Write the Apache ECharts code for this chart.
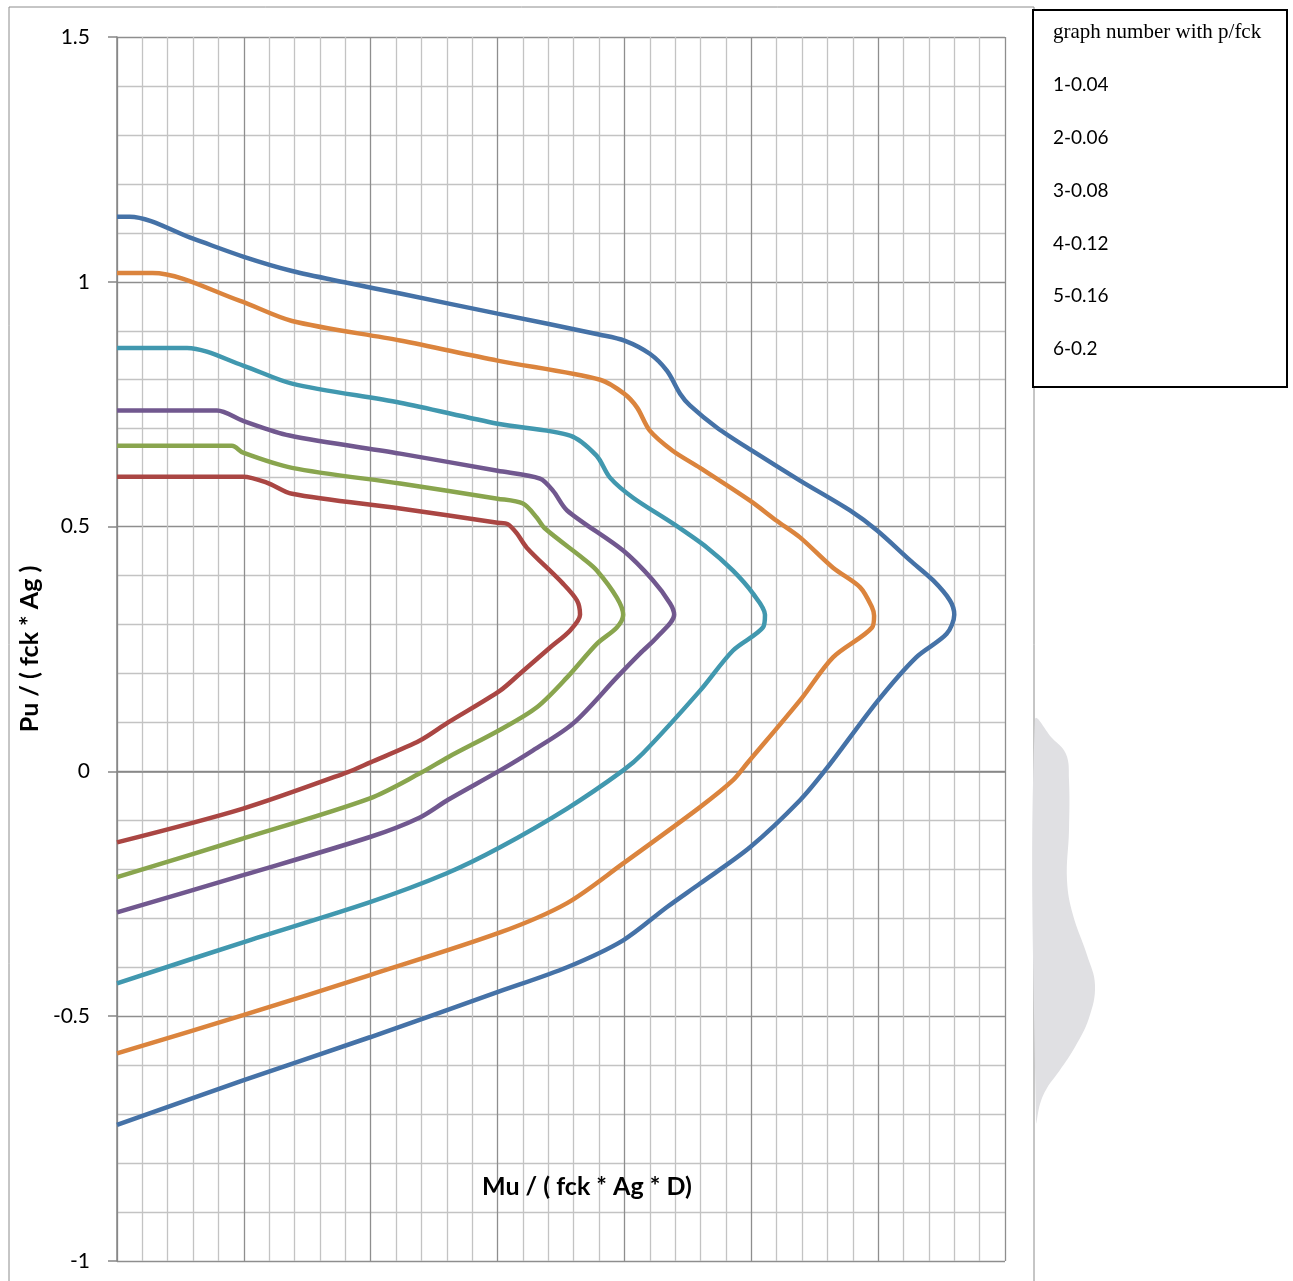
<!DOCTYPE html>
<html>
<head>
<meta charset="utf-8">
<title>Interaction curves</title>
<script src="https://cdn.jsdelivr.net/npm/echarts@6/dist/echarts.min.js"></script>
<style>
	html, body { margin: 0; padding: 0; background: #fff; }
	#chart { width: 1293px; height: 1281px; }
</style>
</head>
<body>
<div id="chart"></div>
<script type="text/javascript">
    // curve names (legend), graph number - p/fck
    var curveNames = ['1-0.04', '2-0.06', '3-0.08', '4-0.12', '5-0.16', '6-0.2'];
    var curveColors = ['#AA4643', '#89A54E', '#71588F', '#4198AF', '#DB843D', '#4572A7'];
    var yTicks = [-1, -0.5, 0, 0.5, 1, 1.5];

    // [Mu/(fck*Ag*D), Pu/(fck*Ag)]
    var curve1 = [[0, 0.602], [0.0497, 0.602], [0.059, 0.590], [0.069, 0.567], [0.1116, 0.537], [0.150, 0.508],
        [0.154, 0.505], [0.1576, 0.486], [0.1615, 0.457], [0.1757, 0.384], [0.1813, 0.349], [0.1825, 0.320],
        [0.1786, 0.288], [0.1707, 0.253], [0.1589, 0.200], [0.151, 0.165], [0.1305, 0.100], [0.1194, 0.063],
        [0.0997, 0.018], [0.0907, -0.002], [0.0497, -0.076], [0, -0.145]];
    var curve2 = [[0, 0.665], [0.0453, 0.665], [0.0497, 0.651], [0.069, 0.620], [0.1116, 0.588], [0.150, 0.557],
        [0.160, 0.547], [0.1655, 0.518], [0.1687, 0.496], [0.1837, 0.435], [0.1892, 0.410], [0.197, 0.355],
        [0.1995, 0.320], [0.197, 0.294], [0.1892, 0.261], [0.1774, 0.192], [0.1655, 0.131], [0.151, 0.085],
        [0.1305, 0.029], [0.1194, -0.004], [0.0997, -0.055], [0.0497, -0.137], [0, -0.216]];
    var curve3 = [[0, 0.737], [0.0394, 0.737], [0.0497, 0.716], [0.068, 0.686], [0.1116, 0.649], [0.150, 0.614],
        [0.1667, 0.598], [0.1719, 0.573], [0.1774, 0.533], [0.1995, 0.451], [0.2113, 0.390], [0.218, 0.343],
        [0.2196, 0.320], [0.2128, 0.274], [0.2062, 0.241], [0.197, 0.192], [0.1798, 0.098], [0.164, 0.043],
        [0.151, 0.002], [0.1305, -0.058], [0.1194, -0.094], [0.0997, -0.134], [0.0497, -0.212], [0, -0.288]];
    var curve4 = [[0, 0.865], [0.0276, 0.865], [0.0497, 0.829], [0.069, 0.792], [0.1116, 0.753], [0.150, 0.710],
        [0.1786, 0.686], [0.189, 0.645], [0.1943, 0.600], [0.2034, 0.559], [0.2192, 0.506], [0.2326, 0.457],
        [0.2428, 0.410], [0.2507, 0.363], [0.2554, 0.320], [0.2546, 0.294], [0.2428, 0.247], [0.2298, 0.165],
        [0.2073, 0.037], [0.1995, 0.002], [0.1774, -0.076], [0.151, -0.155], [0.130, -0.208], [0.0997, -0.267],
        [0.0497, -0.349], [0, -0.433]];
    var curve5 = [[0, 1.018], [0.014, 1.018], [0.0485, 0.961], [0.069, 0.920], [0.1116, 0.880], [0.150, 0.839],
        [0.1904, 0.800], [0.2, 0.771], [0.205, 0.743], [0.21, 0.696], [0.219, 0.655], [0.2298, 0.620],
        [0.2495, 0.553], [0.260, 0.512], [0.2692, 0.478], [0.2822, 0.416], [0.2929, 0.376], [0.2976, 0.335],
        [0.2984, 0.318], [0.2976, 0.294], [0.2822, 0.233], [0.2692, 0.145], [0.2483, 0.016], [0.2428, -0.018],
        [0.2298, -0.073], [0.1995, -0.188], [0.1774, -0.269], [0.151, -0.329], [0.0997, -0.416],
        [0.0497, -0.498], [0, -0.576]];
    var curve6 = [[0, 1.133], [0.005, 1.133], [0.03, 1.088], [0.05, 1.051], [0.069, 1.022], [0.0907, 0.998],
        [0.1116, 0.976], [0.150, 0.935], [0.1904, 0.892], [0.2, 0.880], [0.21, 0.853], [0.2168, 0.818],
        [0.222, 0.771], [0.2259, 0.747], [0.2365, 0.702], [0.2503, 0.655], [0.2692, 0.594], [0.2889, 0.533],
        [0.2996, 0.492], [0.3126, 0.431], [0.3217, 0.390], [0.3283, 0.349], [0.330, 0.320], [0.327, 0.281],
        [0.315, 0.233], [0.300, 0.145], [0.280, 0.008], [0.2692, -0.059], [0.2495, -0.155], [0.2298, -0.229],
        [0.2168, -0.277], [0.1995, -0.345], [0.1774, -0.400], [0.151, -0.449], [0.0997, -0.543],
        [0.0497, -0.631], [0, -0.722]];
    var curves = [curve1, curve2, curve3, curve4, curve5, curve6];

    var myChart = echarts.init(document.getElementById('chart'), null, {renderer: 'canvas'});

    var series = [];
    for (var i = 0; i < curves.length; i++) {
        series.push({
            name: curveNames[i],
            type: 'line',
            data: curves[i],
            smooth: 0.3,
            showSymbol: false,
            symbol: 'none',
            lineStyle: {color: curveColors[i], width: 4.5},
            itemStyle: {color: curveColors[i]},
            z: 10
        });
    }

    var option = {
        animation: false,
        backgroundColor: '#fff',
        grid: {left: 117, top: 37, right: 288, bottom: 20, containLabel: false},
        legend: {
            data: curveNames,
            orient: 'vertical',
            left: 1048,
            top: 75,
            padding: 0,
            icon: 'none',
            itemWidth: 0,
            itemHeight: 20,
            itemGap: 32.8,
            selectedMode: false,
            textStyle: {fontFamily: 'Lato', fontSize: 19, color: '#000', lineHeight: 20}
        },
        xAxis: {
            type: 'value',
            min: 0,
            max: 0.35,
            interval: 0.05,
            axisLine: {show: true, lineStyle: {color: '#868686', width: 1.5}},
            axisTick: {show: false},
            axisLabel: {show: false},
            splitLine: {show: true, lineStyle: {color: '#8e8e8e', width: 1.3}},
            minorTick: {show: false, splitNumber: 5},
            minorSplitLine: {show: true, lineStyle: {color: '#c3c3c3', width: 1.3}}
        },
        yAxis: {
            type: 'value',
            min: yTicks[0],
            max: yTicks[yTicks.length - 1],
            interval: 0.5,
            name: 'Pu / ( fck * Ag )',
            nameLocation: 'middle',
            nameGap: 72,
            nameTextStyle: {fontFamily: 'Lato', fontWeight: 'bold', fontSize: 25, color: '#000'},
            axisLine: {show: true, lineStyle: {color: '#868686', width: 1.5}},
            axisTick: {show: true, length: 9, lineStyle: {color: '#868686', width: 1.5}},
            axisLabel: {margin: 27, fontFamily: 'Lato', fontSize: 21, color: '#000'},
            splitLine: {show: true, lineStyle: {color: '#8e8e8e', width: 1.3}},
            minorTick: {show: false, splitNumber: 5},
            minorSplitLine: {show: true, lineStyle: {color: '#c3c3c3', width: 1.3}}
        },
        graphic: [
            // outer chart frame
            {type: 'rect', shape: {x: 9, y: 7, width: 1025, height: 1300}, style: {fill: 'none', stroke: '#8c8c8c', lineWidth: 1}, z: -1},
            // grey smudge on the right
            {type: 'polygon', shape: {smooth: 0.4, points: [[1035, 720], [1052, 738], [1066, 754], [1069, 780], [1069, 830],
                [1067, 880], [1073, 915], [1087, 955], [1095, 985], [1089, 1018], [1075, 1047], [1060, 1070], [1047, 1088],
                [1040, 1104], [1036, 1122]]}, style: {fill: '#e0e0e3'}, z: -1},
            // legend box
            {type: 'rect', shape: {x: 1033, y: 10, width: 254, height: 377}, style: {fill: '#fff', stroke: '#000', lineWidth: 2}, z: 0},
            {type: 'text', left: 1053, top: 22, style: {text: 'graph number with p/fck', font: '21px "Liberation Serif"', fill: '#000'}, z: 1},
            // x axis title sits inside the plot
            {type: 'text', left: 482, top: 1174, style: {text: 'Mu / ( fck * Ag * D)', font: 'bold 25px Lato', fill: '#000'}, z: 20}
        ],
        series: series
    };
    myChart.setOption(option);
</script>
</body>
</html>
